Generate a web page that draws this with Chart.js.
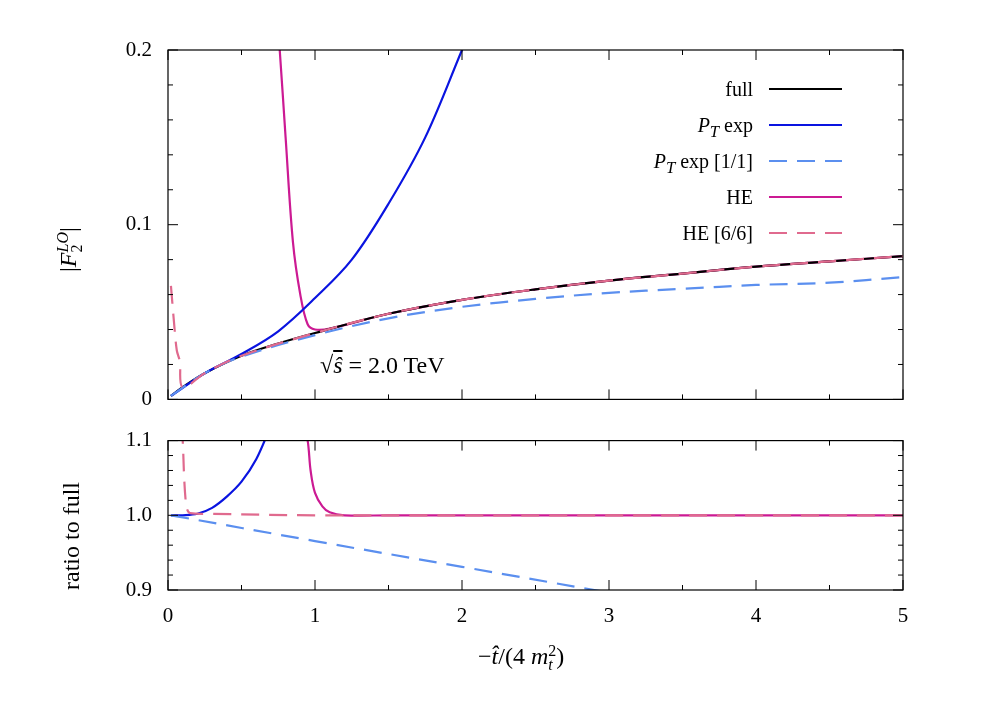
<!DOCTYPE html><html><head><meta charset="utf-8">
<script src="https://cdn.jsdelivr.net/npm/chart.js@4"></script>
<style>
body{margin:0;background:#fff;width:996px;height:712px;position:relative;font-family:"Liberation Serif",serif;overflow:hidden}
canvas{position:absolute;left:0}
.t{position:absolute;font-size:24px;white-space:nowrap}
.lg{position:absolute;font-size:20px;text-align:right;width:200px}
.ss{display:inline-block;vertical-align:middle;line-height:14px;font-size:16px;text-align:left}
</style></head><body>
<canvas id="c1" width="996" height="420" style="top:0;width:996px;height:420px"></canvas>
<canvas id="c2" width="996" height="292" style="top:420px;width:996px;height:292px"></canvas>
<div class="t" style="left:55px;top:272px;transform:rotate(-90deg);transform-origin:left top;">|<i>F</i><span class="ss"><i>LO</i><br>2</span>|</div>
<div class="t" style="left:58px;top:590px;transform:rotate(-90deg);transform-origin:left top;">ratio to full</div>
<div class="t" style="left:478px;top:643px;">−<i>t̂</i>/(4 <i>m</i><span class="ss">2<br><i>t</i></span>)</div>
<div class="t" style="left:320px;top:352px;">√<span style="text-decoration:overline"><i>ŝ</i></span> = 2.0 TeV</div>
<div class="lg" style="left:553px;top:78px">full</div>
<div class="lg" style="left:553px;top:114px"><i>P<sub>T</sub></i> exp</div>
<div class="lg" style="left:553px;top:150px"><i>P<sub>T</sub></i> exp [1/1]</div>
<div class="lg" style="left:553px;top:186px">HE</div>
<div class="lg" style="left:553px;top:222px">HE [6/6]</div>
<script>
const fullX=[0.02,0.1,0.25,0.5,0.75,1,1.5,2,2.5,3,3.5,4,4.5,5];
const fullY=[0.002,0.007,0.015,0.025,0.032,0.038,0.049,0.057,0.063,0.068,0.072,0.076,0.079,0.082];
const ptX=[0.02,0.25,0.5,0.75,1,1.25,1.5,1.75,2,2.1];
const ptY=[0.002,0.015,0.026,0.039,0.058,0.08,0.112,0.15,0.2,0.22];
const padX=[0.02,0.25,0.5,1,1.5,2,2.5,3,3.5,4,4.5,5];
const padY=[0.002,0.015,0.0245,0.0368,0.0464,0.0530,0.0575,0.0610,0.0633,0.0655,0.0668,0.0700];
const heX=[0.74,0.76,0.8,0.85,0.9,0.95,1.0,1.1,1.5,2,2.5,3,3.5,4,4.5,5];
const heY=[0.22,0.2,0.15,0.09,0.06,0.043,0.040,0.0405,0.049,0.057,0.063,0.068,0.072,0.076,0.079,0.082];
const he6X=[0.02,0.04,0.06,0.08,0.1,0.25,0.5,1,1.5,2,2.5,3,3.5,4,4.5,5];
const he6Y=[0.065,0.045,0.028,0.022,0.007,0.015,0.025,0.038,0.049,0.057,0.063,0.068,0.072,0.076,0.079,0.082];
const rPtX=[0.02,0.1,0.2,0.3,0.4,0.5,0.6,0.7];
const rPtY=[1.0,1.0,1.002,1.01,1.025,1.045,1.075,1.12];
const rPadX=[0.02,1,2,2.9,3.2];
const rPadY=[1.0,0.9655,0.931,0.9,0.89];
const rHeX=[0.92,0.95,0.97,1.0,1.05,1.1,1.2,1.5,5];
const rHeY=[1.12,1.1,1.06,1.03,1.012,1.004,1.0,1.0,1.0];
const rHe6X=[0.09,0.1,0.11,0.12,0.13,0.15,0.3,1,5];
const rHe6Y=[1.12,1.1,1.05,1.02,1.008,1.003,1.002,1.0,1.0];
const BLACK='#000',BLUE='#0a14e0',LBLUE='#5b8fef',MAG='#cc1a93',PINK='#e06a8e';
const pts=(xs,ys)=>xs.map((x,i)=>({x,y:ys[i]}));
function ds(xs,ys,c,dash){return{data:pts(xs,ys),borderColor:c,borderWidth:2.2,borderDash:dash||[],pointRadius:0,tension:0.35,fill:false}}
function ticksPlugin(xmin,xmax,xmaj,xmin2,ymin,ymax,ymaj,ymin2){return{id:'tk',afterDraw(ch){
 const c=ch.ctx,a=ch.chartArea,sx=ch.scales.x,sy=ch.scales.y;c.save();c.strokeStyle='#000';c.lineWidth=1;c.beginPath();
 for(let v=xmin;v<=xmax+1e-9;v+=xmin2){const p=sx.getPixelForValue(v);const L=Math.abs(Math.round(v/xmaj)*xmaj-v)<1e-9?10:5;
  c.moveTo(p,a.bottom);c.lineTo(p,a.bottom-L);c.moveTo(p,a.top);c.lineTo(p,a.top+L);}
 for(let v=ymin;v<=ymax+1e-9;v+=ymin2){const p=sy.getPixelForValue(v);const L=Math.abs(Math.round(v/ymaj)*ymaj-v)<1e-9?10:5;
  c.moveTo(a.left,p);c.lineTo(a.left+L,p);c.moveTo(a.right,p);c.lineTo(a.right-L,p);}
 c.stroke();c.lineWidth=1.2;c.strokeRect(a.left,a.top,a.right-a.left,a.bottom-a.top);
 if(ch.canvas.id==='c1'){const L=[[BLACK,[]],[BLUE,[]],[LBLUE,[18,10]],[MAG,[]],[PINK,[18,10]]];
  L.forEach((l,i)=>{c.strokeStyle=l[0];c.lineWidth=2.2;c.setLineDash(l[1]);c.beginPath();const y=89+36*i;c.moveTo(769,y);c.lineTo(842,y);c.stroke();});}
 c.restore();}}}
const font={family:'Liberation Serif',size:21};
function mk(id,sets,ymin,ymax,ystep,showX,padB,tp){
 new Chart(document.getElementById(id),{type:'line',data:{datasets:sets},plugins:[tp],
 options:{responsive:false,animation:false,layout:{padding:{left:0,right:93,top:id==='c1'?50:17,bottom:padB}},
 plugins:{legend:{display:false},tooltip:{enabled:false}},
 scales:{x:{type:'linear',min:0,max:5,grid:{display:false},border:{display:false},ticks:{display:showX,stepSize:1,font,color:'#000',padding:6},afterFit(s){s.height=showX?36:0;}},
  y:{min:ymin,max:ymax,grid:{display:false},border:{display:false},afterFit(s){s.width=168;},
   ticks:{stepSize:ystep,font,color:'#000',padding:8,callback:v=>{const r=Math.round(v*10)/10;return ymin===0&&r===0?'0':r.toFixed(1);}}}}}});
}
mk('c1',[ds(heX,heY,MAG),ds(fullX,fullY,BLACK),ds(ptX,ptY,BLUE),ds(padX,padY,LBLUE,[18,10]),ds(he6X,he6Y,PINK,[18,10])].reverse(),0,0.2,0.1,false,18,ticksPlugin(0,5,1,0.5,0,0.2,0.1,0.02));
mk('c2',[ds(rPtX,rPtY,BLUE),ds(rHeX,rHeY,MAG),ds(rPadX,rPadY,LBLUE,[18,10]),ds(rHe6X,rHe6Y,PINK,[18,10])].reverse(),0.9,1.1,0.1,true,86,ticksPlugin(0,5,1,0.5,0.9,1.1,0.1,0.02));
</script></body></html>
